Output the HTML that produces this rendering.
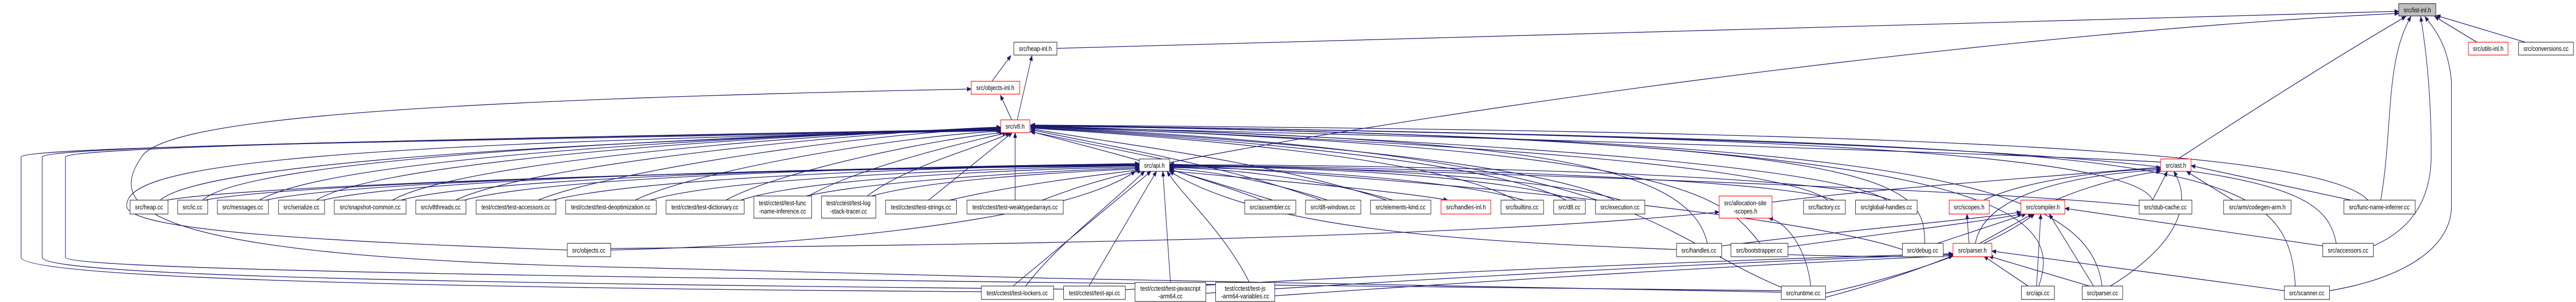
<!DOCTYPE html>
<html><head><meta charset="utf-8">
<style>
html,body{margin:0;padding:0;background:#fff;width:100%;height:100%;overflow:hidden;}
svg{display:block;position:absolute;left:0;top:0;width:100vw;height:100vh;}
text{font-family:"Liberation Sans",Arial,sans-serif;font-size:13px;fill:#000;}
.e{fill:none;stroke:#191970;stroke-width:1.3;}
.n{fill:#fff;stroke:#000;stroke-width:1;}
.r{fill:#fff;stroke:#ff0000;stroke-width:1.2;}
</style></head><body>
<svg viewBox="0 0 6103 587" preserveAspectRatio="none" xmlns="http://www.w3.org/2000/svg">
<defs>
<marker id="a" markerWidth="11" markerHeight="9" refX="10" refY="4.5" orient="auto" markerUnits="userSpaceOnUse"><path d="M0,0 L11,4.5 L0,9z" fill="#191970"/></marker>
</defs>
<g class="e" marker-end="url(#a)">
<path d="M2504,94 L5683,22"/>
<path d="M2771,316 C3500,200 4800,60 5683,26"/>
<path d="M5160,309 C5400,180 5600,80 5700,32"/>
<path d="M5640,391 C5670,250 5650,120 5712,32"/>
<path d="M5623,478 C5700,450 5760,400 5760,300 C5760,150 5740,60 5735,32"/>
<path d="M5519,565 C5700,540 5808,480 5808,400 L5808,160 C5800,80 5760,50 5745,32"/>
<path d="M5868,82 L5768,32"/>
<path d="M5983,82 L5772,30"/>
<path d="M2350,158 L2395,108"/>
<path d="M2410,233 L2445,108"/>
<path d="M2397,233 L2370,185"/>
<path d="M4220,568 C3400,560 2400,540 1500,520 C300,500 250,400 340,300 C420,230 1000,195 2301,173"/>
<path d="M380,389 C500,300 1800,265 2371,252"/>
<path d="M480,389 C600,300 1800,262 2371,251"/>
<path d="M615,389 C800,300 1900,260 2371,250"/>
<path d="M750,389 C900,310 1900,258 2371,249"/>
<path d="M930,389 C1100,310 2000,256 2371,248"/>
<path d="M1080,389 C1250,320 2050,255 2371,247"/>
<path d="M1275,389 C1450,330 2100,254 2373,250"/>
<path d="M1505,389 C1650,330 2150,262 2375,255"/>
<path d="M1720,389 C1850,330 2250,265 2378,258"/>
<path d="M1915,381 C2050,320 2300,275 2385,258"/>
<path d="M2055,381 C2150,320 2350,280 2392,258"/>
<path d="M2200,389 L2398,258"/>
<path d="M2405,389 L2405,258"/>
<path d="M395,389 C600,360 1700,330 2699,322"/>
<path d="M485,389 C700,355 1800,330 2699,321"/>
<path d="M630,389 C850,350 1800,330 2699,320"/>
<path d="M765,389 C1000,345 1900,328 2699,319"/>
<path d="M950,389 C1150,345 2000,326 2699,318"/>
<path d="M1100,389 C1300,345 2000,326 2699,318"/>
<path d="M1310,389 C1500,350 2100,326 2699,320"/>
<path d="M1540,389 C1700,350 2200,330 2699,322"/>
<path d="M1755,389 C1900,350 2300,332 2699,324"/>
<path d="M1910,381 C2050,355 2400,335 2699,326"/>
<path d="M2065,381 C2200,350 2500,335 2700,328"/>
<path d="M2250,389 C2400,360 2600,340 2702,330"/>
<path d="M2470,389 C2560,360 2650,340 2705,332"/>
<path d="M1447,486 C1800,480 2500,440 2690,333"/>
<path d="M1344,486 C800,470 300,450 300,400 C300,330 600,280 2371,254"/>
<path d="M2325,567 C1000,560 50,540 50,500 L50,305 C60,285 1000,275 2371,253"/>
<path d="M2520,562 C1000,550 100,535 100,500 L100,305 C110,285 1000,272 2371,252"/>
<path d="M4220,565 C2000,545 155,530 155,500 L155,305 C165,287 1000,270 2371,251"/>
<path d="M2400,556 L2727,333"/>
<path d="M2580,556 L2740,333"/>
<path d="M2773,549 L2755,333"/>
<path d="M2960,549 C2900,450 2800,380 2765,333"/>
<path d="M2430,556 C2500,480 2600,420 2712,333"/>
<path d="M2990,389 C2800,330 2600,290 2440,255"/>
<path d="M3130,389 C2900,320 2600,280 2442,252"/>
<path d="M3285,389 C3000,310 2600,275 2442,250"/>
<path d="M3590,389 C3400,300 2700,262 2442,249"/>
<path d="M3710,389 C3500,300 2700,260 2442,248"/>
<path d="M3825,389 C3600,300 2700,258 2442,247"/>
<path d="M4330,389 C4200,300 2800,256 2442,246"/>
<path d="M4470,389 C4300,300 2900,255 2442,245"/>
<path d="M4045,473 C4000,300 3500,270 2442,245"/>
<path d="M4170,473 C4080,380 4000,290 2442,246"/>
<path d="M4560,473 C4560,350 4500,270 2442,244"/>
<path d="M5100,389 C5050,290 4000,260 2442,244"/>
<path d="M5535,473 C5500,330 5300,280 2442,243"/>
<path d="M5610,389 C5500,290 4500,255 2442,243"/>
<path d="M5438,556 C5420,300 5200,280 2442,243"/>
<path d="M4980,556 C4950,350 4500,270 2442,244"/>
<path d="M4830,556 C4900,400 4700,265 2442,245"/>
<path d="M4225,560 C3900,450 3900,300 2442,246"/>
<path d="M5119,315 C4800,300 3500,265 2442,247"/>
<path d="M2771,312 L2442,256"/>
<path d="M3015,389 C2900,360 2800,335 2771,330"/>
<path d="M3145,389 C3000,350 2850,330 2771,328"/>
<path d="M3300,389 C3100,340 2850,325 2771,326"/>
<path d="M2771,332 C3000,350 3300,370 3430,389"/>
<path d="M3610,389 C3400,340 2900,325 2771,325"/>
<path d="M3735,389 C3500,330 2900,322 2771,324"/>
<path d="M3840,389 C3600,330 2900,320 2771,323"/>
<path d="M4345,389 C4200,340 3000,320 2771,322"/>
<path d="M4480,389 C4300,330 3000,318 2771,321"/>
<path d="M3972,485 C3500,470 3000,450 2771,333"/>
<path d="M4507,485 C4200,400 3000,330 2771,320"/>
<path d="M5068,400 C4600,360 3000,325 2771,319"/>
<path d="M4690,473 L4815,416"/>
<path d="M4825,556 L4835,416"/>
<path d="M4960,556 L4855,416"/>
<path d="M5503,478 L4892,405"/>
<path d="M4590,473 L4800,416"/>
<path d="M4325,570 C4600,520 4750,460 4820,416"/>
<path d="M4236,480 C4500,450 4700,430 4790,416"/>
<path d="M4079,478 C4400,445 4700,425 4788,412"/>
<path d="M4700,389 C4800,350 5000,330 5119,328"/>
<path d="M4870,389 C4950,360 5050,340 5119,333"/>
<path d="M5100,389 L5135,333"/>
<path d="M5290,389 L5180,333"/>
<path d="M5570,389 L5191,322"/>
<path d="M5000,556 C5150,480 5200,400 5150,333"/>
<path d="M4680,473 C4700,380 4900,340 5119,330"/>
<path d="M4198,393 C4400,370 4900,340 5119,325"/>
<path d="M4805,556 L4700,498"/>
<path d="M4950,556 L4712,498"/>
<path d="M5412,565 L4719,488"/>
<path d="M4325,578 C4500,540 4600,505 4627,497"/>
<path d="M4236,495 C4450,500 4550,500 4627,494"/>
<path d="M3020,575 C3800,530 4400,505 4627,497"/>
<path d="M2857,570 C3800,520 4400,500 4627,495"/>
<path d="M2666,563 C3700,515 4400,498 4627,493"/>
<path d="M4665,473 L4660,416"/>
<path d="M4290,556 C4280,480 4230,430 4190,424"/>
<path d="M1447,483 C2500,475 3500,460 4073,412"/>
</g>
<g>
<rect class="n" x="5683" y="7" width="88" height="24" style="fill:#bfbfbf"/><text x="5727" y="24" text-anchor="middle">src/list-inl.h</text>
<rect class="n" x="2402" y="82" width="102" height="25"/><text x="2453" y="99" text-anchor="middle">src/heap-inl.h</text>
<rect class="r" x="5848" y="82" width="94" height="25"/><text x="5895" y="99" text-anchor="middle">src/utils-inl.h</text>
<rect class="n" x="5967" y="82" width="130" height="25"/><text x="6032" y="99" text-anchor="middle">src/conversions.cc</text>
<rect class="r" x="2301" y="158" width="115" height="25"/><text x="2358" y="175" text-anchor="middle">src/objects-inl.h</text>
<rect class="r" x="2371" y="233" width="69" height="25"/><text x="2405" y="250" text-anchor="middle">src/v8.h</text>
<rect class="n" x="2699" y="309" width="72" height="24"/><text x="2735" y="326" text-anchor="middle">src/api.h</text>
<rect class="r" x="5119" y="309" width="72" height="24"/><text x="5155" y="326" text-anchor="middle">src/ast.h</text>
</g>
<g>
<rect class="n" x="308" y="389" width="90" height="27"/><text x="353" y="407" text-anchor="middle">src/heap.cc</text>
<rect class="n" x="421" y="389" width="71" height="27"/><text x="456" y="407" text-anchor="middle">src/ic.cc</text>
<rect class="n" x="515" y="389" width="121" height="27"/><text x="575" y="407" text-anchor="middle">src/messages.cc</text>
<rect class="n" x="660" y="389" width="109" height="27"/><text x="714" y="407" text-anchor="middle">src/serialize.cc</text>
<rect class="n" x="792" y="389" width="170" height="27"/><text x="877" y="407" text-anchor="middle">src/snapshot-common.cc</text>
<rect class="n" x="985" y="389" width="119" height="27"/><text x="1044" y="407" text-anchor="middle">src/v8threads.cc</text>
<rect class="n" x="1128" y="389" width="189" height="27"/><text x="1222" y="407" text-anchor="middle">test/cctest/test-accessors.cc</text>
<rect class="n" x="1340" y="389" width="215" height="27"/><text x="1447" y="407" text-anchor="middle">test/cctest/test-deoptimization.cc</text>
<rect class="n" x="1578" y="389" width="185" height="27"/><text x="1670" y="407" text-anchor="middle">test/cctest/test-dictionary.cc</text>
<rect class="n" x="1786" y="381" width="137" height="43"/><text x="1854" y="399" text-anchor="middle">test/cctest/test-func</text><text x="1854" y="415" text-anchor="middle">-name-inference.cc</text>
<rect class="n" x="1946" y="381" width="129" height="43"/><text x="2010" y="399" text-anchor="middle">test/cctest/test-log</text><text x="2010" y="415" text-anchor="middle">-stack-tracer.cc</text>
<rect class="n" x="2098" y="389" width="168" height="27"/><text x="2182" y="407" text-anchor="middle">test/cctest/test-strings.cc</text>
<rect class="n" x="2291" y="389" width="228" height="27"/><text x="2405" y="407" text-anchor="middle">test/cctest/test-weaktypedarrays.cc</text>
<rect class="n" x="2949" y="389" width="121" height="27"/><text x="3009" y="407" text-anchor="middle">src/assembler.cc</text>
<rect class="n" x="3093" y="389" width="131" height="27"/><text x="3158" y="407" text-anchor="middle">src/d8-windows.cc</text>
<rect class="n" x="3247" y="389" width="143" height="27"/><text x="3318" y="407" text-anchor="middle">src/elements-kind.cc</text>
<rect class="r" x="3414" y="389" width="118" height="27"/><text x="3473" y="407" text-anchor="middle">src/handles-inl.h</text>
<rect class="n" x="3556" y="389" width="101" height="27"/><text x="3606" y="407" text-anchor="middle">src/builtins.cc</text>
<rect class="n" x="3681" y="389" width="75" height="27"/><text x="3718" y="407" text-anchor="middle">src/d8.cc</text>
<rect class="n" x="3780" y="389" width="117" height="27"/><text x="3838" y="407" text-anchor="middle">src/execution.cc</text>
<rect class="r" x="4073" y="381" width="125" height="43"/><text x="4135" y="399" text-anchor="middle">src/allocation-site</text><text x="4135" y="415" text-anchor="middle">-scopes.h</text>
<rect class="n" x="4273" y="389" width="99" height="27"/><text x="4322" y="407" text-anchor="middle">src/factory.cc</text>
<rect class="n" x="4396" y="389" width="146" height="27"/><text x="4469" y="407" text-anchor="middle">src/global-handles.cc</text>
<rect class="r" x="4618" y="389" width="95" height="27"/><text x="4665" y="407" text-anchor="middle">src/scopes.h</text>
<rect class="r" x="4788" y="389" width="104" height="27"/><text x="4840" y="407" text-anchor="middle">src/compiler.h</text>
<rect class="n" x="5068" y="389" width="125" height="27"/><text x="5130" y="407" text-anchor="middle">src/stub-cache.cc</text>
<rect class="n" x="5268" y="389" width="160" height="27"/><text x="5348" y="407" text-anchor="middle">src/arm/codegen-arm.h</text>
<rect class="n" x="5553" y="389" width="169" height="27"/><text x="5637" y="407" text-anchor="middle">src/func-name-inferrer.cc</text>
</g>
<g>
<rect class="n" x="1344" y="473" width="103" height="26"/><text x="1395" y="491" text-anchor="middle">src/objects.cc</text>
<rect class="n" x="3972" y="473" width="107" height="26"/><text x="4025" y="491" text-anchor="middle">src/handles.cc</text>
<rect class="n" x="4101" y="473" width="135" height="26"/><text x="4168" y="491" text-anchor="middle">src/bootstrapper.cc</text>
<rect class="n" x="4507" y="473" width="97" height="26"/><text x="4555" y="491" text-anchor="middle">src/debug.cc</text>
<rect class="r" x="4627" y="473" width="92" height="26"/><text x="4673" y="491" text-anchor="middle">src/parser.h</text>
<rect class="n" x="5503" y="473" width="120" height="26"/><text x="5563" y="491" text-anchor="middle">src/accessors.cc</text>
</g>
<g>
<rect class="n" x="2325" y="556" width="171" height="26"/><text x="2410" y="574" text-anchor="middle">test/cctest/test-lockers.cc</text>
<rect class="n" x="2520" y="556" width="146" height="26"/><text x="2593" y="574" text-anchor="middle">test/cctest/test-api.cc</text>
<rect class="n" x="2689" y="549" width="168" height="37"/><text x="2773" y="565" text-anchor="middle">test/cctest/test-javascript</text><text x="2773" y="580" text-anchor="middle">-arm64.cc</text>
<rect class="n" x="2880" y="549" width="140" height="37"/><text x="2950" y="565" text-anchor="middle">test/cctest/test-js</text><text x="2950" y="580" text-anchor="middle">-arm64-variables.cc</text>
<rect class="n" x="4220" y="556" width="105" height="26"/><text x="4272" y="574" text-anchor="middle">src/runtime.cc</text>
<rect class="n" x="4789" y="556" width="78" height="26"/><text x="4828" y="574" text-anchor="middle">src/api.cc</text>
<rect class="n" x="4933" y="556" width="96" height="26"/><text x="4981" y="574" text-anchor="middle">src/parser.cc</text>
<rect class="n" x="5412" y="556" width="107" height="26"/><text x="5465" y="574" text-anchor="middle">src/scanner.cc</text>
</g>
</svg>
</body></html>
